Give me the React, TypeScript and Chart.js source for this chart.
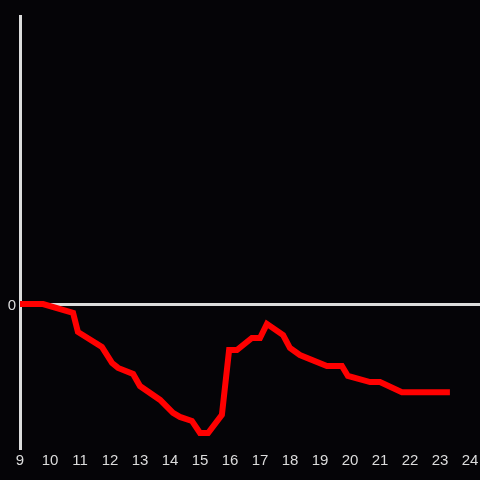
import React, { useEffect, useRef } from "react";
import { Chart, registerables } from "chart.js";

Chart.register(...registerables);

const hours = [9, 9.77, 10.77, 10.93, 11.73, 12.07, 12.27, 12.77, 13.0, 13.67, 14.1, 14.33, 14.73, 15.0, 15.27, 15.73, 15.97, 16.23, 16.73, 17.0, 17.23, 17.77, 18.0, 18.33, 19.23, 19.73, 19.93, 20.67, 21.0, 21.73, 23.33];
const values = [0, 0, -3.1, -9.7, -14.9, -20.5, -22.2, -24.3, -28.5, -33.3, -37.8, -39.2, -40.6, -44.8, -44.8, -38.5, -16, -16, -11.8, -11.8, -6.9, -10.8, -15.3, -17.7, -21.5, -21.5, -25, -27.1, -27.1, -30.6, -30.6];
const xTicks = [9, 10, 11, 12, 13, 14, 15, 16, 17, 18, 19, 20, 21, 22, 23, 24];
const yTicks = [0];

const BG = "#050407";
const AXIS = "#dcdcdc";

export default function App() {
  const ref = useRef<HTMLCanvasElement>(null);
  useEffect(() => {
    document.body.style.margin = "0";
    document.body.style.background = BG;
    const bgPlugin = {
      id: "bg",
      beforeDraw(chart: any) {
        const ctx = chart.ctx;
        ctx.save();
        ctx.fillStyle = BG;
        ctx.fillRect(0, 0, chart.width, chart.height);
        ctx.restore();
      },
    };
    const chart = new Chart(ref.current!, {
      type: "line",
      data: {
        datasets: [
          {
            data: hours.map((h, i) => ({ x: h, y: values[i] })),
            borderColor: "#ff0000",
            borderWidth: 6,
            pointRadius: 0,
            tension: 0,
            fill: false,
            borderJoinStyle: "miter",
          },
        ],
      },
      options: {
        animation: false,
        responsive: false,
        layout: { padding: { top: 16, right: 0, left: 0, bottom: 0 } },
        plugins: { legend: { display: false }, tooltip: { enabled: false } },
        scales: {
          x: {
            type: "linear",
            min: 9,
            max: 24 + 1 / 3,
            afterBuildTicks: (s: any) => {
              s.ticks = xTicks.map((v) => ({ value: v }));
            },
            afterFit: (s: any) => {
              s.height = 32;
              s.paddingLeft = 0;
              s.paddingRight = 0;
            },
            grid: { display: false, drawTicks: false },
            border: { display: false },
            ticks: {
              color: AXIS,
              font: { family: "Liberation Sans", size: 15 },
              padding: 4,
              maxRotation: 0,
              autoSkip: false,
            },
          },
          y: {
            min: -50,
            max: 100,
            afterBuildTicks: (s: any) => {
              s.ticks = yTicks.map((v) => ({ value: v }));
            },
            afterFit: (s: any) => {
              s.width = 20;
              s.paddingTop = 0;
              s.paddingBottom = 0;
            },
            grid: {
              color: AXIS,
              lineWidth: 3,
              drawTicks: false,
            },
            border: { display: true, color: AXIS, width: 3 },
            ticks: {
              color: AXIS,
              font: { family: "Liberation Sans", size: 15 },
              padding: 4,
              labelOffset: 2,
            },
          },
        },
      },
      plugins: [bgPlugin],
    } as any);
    return () => chart.destroy();
  }, []);
  return <canvas ref={ref} width={480} height={480} style={{ display: "block" }} />;
}
